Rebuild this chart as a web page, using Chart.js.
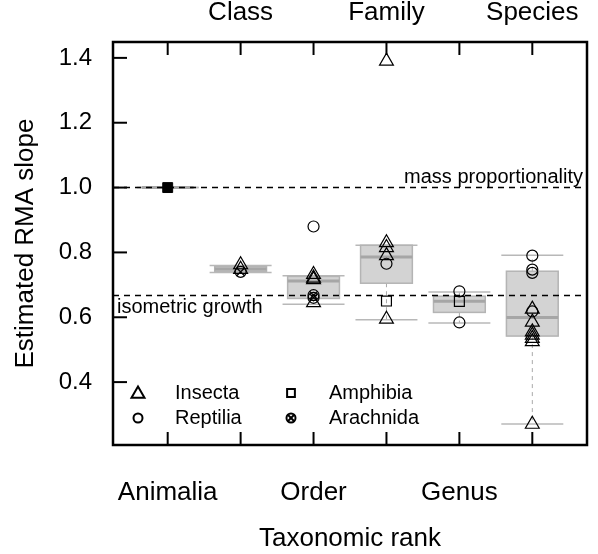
<!DOCTYPE html>
<html>
<head>
<meta charset="utf-8">
<script src="https://cdn.jsdelivr.net/npm/chart.js@4.4.1/dist/chart.umd.min.js"></script>
<style>
  body { margin: 0; background: #fff; }
</style>
</head>
<body>
<canvas id="rma-chart" width="598" height="554"></canvas>
<script>
// taxonomic ranks, drawn at x = 1..6
var ranks = ['Animalia', 'Class', 'Order', 'Family', 'Genus', 'Species'];
var yTicks = [0.4, 0.6, 0.8, 1.0, 1.2, 1.4];

// box plot statistics
var boxLow  = [1.0, 0.738, 0.640, 0.592, 0.582, 0.271];
var boxQ1   = [1.0, 0.742, 0.658, 0.705, 0.615, 0.542];
var boxMed  = [1.0, 0.749, 0.712, 0.786, 0.649, 0.599];
var boxQ3   = [1.0, 0.756, 0.726, 0.822, 0.665, 0.742];
var boxHigh = [1.0, 0.760, 0.728, 0.822, 0.678, 0.791];

// individual estimates: [rank position, slope]
var animalia  = [[1, 1.0]];
var insecta   = [[2, 0.762], [2, 0.748], [3, 0.645], [3, 0.716], [3, 0.721], [3, 0.732],
                 [4, 1.39], [4, 0.830], [4, 0.815], [4, 0.790], [4, 0.594],
                 [6, 0.625], [6, 0.585], [6, 0.555], [6, 0.545], [6, 0.535], [6, 0.525], [6, 0.270]];
var reptilia  = [[3, 0.880], [4, 0.765], [5, 0.680], [5, 0.584], [6, 0.790], [6, 0.747], [6, 0.737], [6, 0.618]];
var amphibia  = [[4, 0.650], [5, 0.649]];
var arachnida = [[2, 0.740], [3, 0.668], [3, 0.660]];

// reference slopes
var refValues = [1.0, 0.667];
var refLabels = ['mass proportionality', 'isometric growth'];

var FONT = '"Liberation Sans", Arial, Helvetica, sans-serif';
Chart.defaults.font.family = FONT;
Chart.defaults.color = '#000';

function toXY(list) {
    return list.map(function (p) { return { x: p[0], y: p[1] }; });
}

function line(ctx, x1, y1, x2, y2) {
    ctx.beginPath();
    ctx.moveTo(x1, y1);
    ctx.lineTo(x2, y2);
    ctx.stroke();
}

function symbol(ctx, style, r, x, y) {
    ctx.fillStyle = 'rgba(0,0,0,0)';
    Chart.helpers.drawPoint(ctx, { pointStyle: style, radius: r, borderWidth: 1.2, rotation: 0 }, x, y);
}

var boxPlugin = {
    id: 'boxes',
    beforeDatasetsDraw: function (chart) {
        var ctx = chart.ctx, xs = chart.scales.x, ys = chart.scales.y, a = chart.chartArea;
        var unit = xs.getPixelForValue(2) - xs.getPixelForValue(1);
        var bw = unit * 0.355, sw = unit * 0.425;
        ctx.save();
        for (var i = 0; i < ranks.length; i++) {
            var cx = xs.getPixelForValue(i + 1);
            var lo = ys.getPixelForValue(boxLow[i]), q1 = ys.getPixelForValue(boxQ1[i]);
            var md = ys.getPixelForValue(boxMed[i]), q3 = ys.getPixelForValue(boxQ3[i]);
            var hi = ys.getPixelForValue(boxHigh[i]);
            // whiskers
            ctx.strokeStyle = '#a9a9a9';
            ctx.lineWidth = 1;
            ctx.setLineDash([4, 4]);
            line(ctx, cx, q1, cx, lo);
            line(ctx, cx, q3, cx, hi);
            ctx.setLineDash([]);
            ctx.strokeStyle = '#b8b8b8';
            ctx.lineWidth = 1.5;
            line(ctx, cx - sw, lo, cx + sw, lo);
            line(ctx, cx - sw, hi, cx + sw, hi);
            // box
            ctx.fillStyle = '#d3d3d3';
            ctx.fillRect(cx - bw, q3, 2 * bw, q1 - q3);
            ctx.strokeStyle = '#b4b4b4';
            ctx.strokeRect(cx - bw, q3, 2 * bw, q1 - q3);
            // median
            ctx.strokeStyle = '#a6a6a6';
            ctx.lineWidth = 3;
            line(ctx, cx - bw, md, cx + bw, md);
        }
        // reference lines
        ctx.strokeStyle = '#000';
        ctx.lineWidth = 1.5;
        ctx.setLineDash([6, 5]);
        refValues.forEach(function (v) {
            var y = ys.getPixelForValue(v);
            line(ctx, a.left, y, a.right, y);
        });
        ctx.restore();
    },
    afterDraw: function (chart) {
        var ctx = chart.ctx, xs = chart.scales.x, ys = chart.scales.y, a = chart.chartArea;
        ctx.save();
        // frame and inward ticks
        ctx.strokeStyle = '#000';
        ctx.lineWidth = 2.5;
        ctx.strokeRect(a.left, a.top, a.right - a.left, a.bottom - a.top);
        ctx.lineWidth = 2;
        ranks.forEach(function (r, i) {
            var x = xs.getPixelForValue(i + 1);
            line(ctx, x, a.top, x, a.top + 13);
            line(ctx, x, a.bottom, x, a.bottom - 13);
        });
        yTicks.forEach(function (v) {
            var y = ys.getPixelForValue(v);
            line(ctx, a.left, y, a.left + 14, y);
        });
        // reference line labels
        ctx.fillStyle = '#000';
        ctx.font = '20px ' + FONT;
        ctx.textBaseline = 'alphabetic';
        ctx.textAlign = 'right';
        ctx.fillText(refLabels[0], a.right - 4, ys.getPixelForValue(refValues[0]) - 5);
        ctx.textAlign = 'left';
        ctx.fillText(refLabels[1], a.left + 4, ys.getPixelForValue(refValues[1]) + 17);
        // legend
        var rows = [a.bottom - 52, a.bottom - 27];
        ctx.strokeStyle = '#000';
        symbol(ctx, 'triangle', 7.5, a.left + 25, rows[0] + 1);
        symbol(ctx, 'circle', 4.5, a.left + 25, rows[1]);
        symbol(ctx, 'rect', 5.5, a.left + 178, rows[0]);
        symbol(ctx, 'circle', 4.5, a.left + 178, rows[1]);
        symbol(ctx, 'crossRot', 4.5, a.left + 178, rows[1]);
        ctx.fillStyle = '#000';
        ctx.textBaseline = 'middle';
        ctx.fillText('Insecta', a.left + 62, rows[0]);
        ctx.fillText('Reptilia', a.left + 62, rows[1]);
        ctx.fillText('Amphibia', a.left + 216, rows[0]);
        ctx.fillText('Arachnida', a.left + 216, rows[1]);
        ctx.restore();
    }
};

function openSet(label, list, style, r) {
    return {
        label: label,
        data: toXY(list),
        pointStyle: style,
        pointRadius: r,
        pointBorderWidth: 1.2,
        borderColor: '#000',
        backgroundColor: 'rgba(0,0,0,0)'
    };
}

var ctx = document.getElementById('rma-chart').getContext('2d');
var chart = new Chart(ctx, {
    type: 'scatter',
    data: {
        datasets: [
            {
                label: 'Animalia',
                data: toXY(animalia),
                pointStyle: 'rect',
                pointRadius: 7,
                borderColor: '#000',
                backgroundColor: '#000'
            },
            openSet('Insecta', insecta, 'triangle', 8),
            openSet('Reptilia', reptilia, 'circle', 5.5),
            openSet('Amphibia', amphibia, 'rect', 7),
            openSet('Arachnida', arachnida, 'circle', 5.5),
            openSet('Arachnida cross', arachnida, 'crossRot', 5.5)
        ]
    },
    options: {
        responsive: false,
        animation: false,
        devicePixelRatio: 1,
        layout: { padding: { left: 0, right: 11, top: 0, bottom: 0 } },
        plugins: { legend: { display: false }, tooltip: { enabled: false } },
        scales: {
            x: {
                type: 'linear',
                position: 'bottom',
                min: 0.25,
                max: 6.75,
                grid: { display: false },
                border: { display: false },
                afterBuildTicks: function (s) {
                    s.ticks = [1, 3, 5].map(function (v) { return { value: v }; });
                },
                afterFit: function (s) { s.height = 109; },
                ticks: {
                    autoSkip: false,
                    maxRotation: 0,
                    padding: 24,
                    font: { size: 26 },
                    callback: function (v) { return ranks[v - 1]; }
                },
                title: { display: true, text: 'Taxonomic rank', font: { size: 26 }, padding: { top: 0, bottom: 0 } }
            },
            x2: {
                type: 'linear',
                position: 'top',
                min: 0.25,
                max: 6.75,
                grid: { display: false },
                border: { display: false },
                afterBuildTicks: function (s) {
                    s.ticks = [2, 4, 6].map(function (v) { return { value: v }; });
                },
                afterFit: function (s) { s.height = 42; },
                ticks: {
                    autoSkip: false,
                    maxRotation: 0,
                    padding: 6,
                    font: { size: 26 },
                    callback: function (v) { return ranks[v - 1]; }
                }
            },
            y: {
                min: 0.206,
                max: 1.449,
                grid: { display: false },
                border: { display: false },
                afterBuildTicks: function (s) {
                    s.ticks = yTicks.map(function (v) { return { value: v }; });
                },
                afterFit: function (s) { s.width = 113; },
                ticks: {
                    padding: 13,
                    font: { size: 24 },
                    callback: function (v) { return v.toFixed(1); }
                },
                title: { display: true, text: 'Estimated RMA slope', font: { size: 26 }, padding: { top: 10, bottom: 0 } }
            }
        }
    },
    plugins: [boxPlugin]
});
</script>
</body>
</html>
